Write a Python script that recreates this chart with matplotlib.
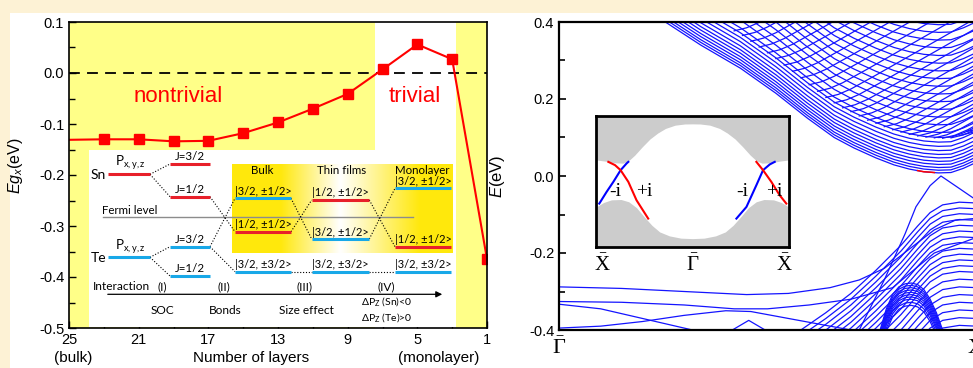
import numpy as np
import matplotlib.pyplot as plt
from matplotlib.patches import Rectangle
from matplotlib.ticker import FixedLocator, MultipleLocator

plt.rcParams['font.family'] = ['Liberation Sans', 'DejaVu Sans']
plt.rcParams['mathtext.fontset'] = 'custom'
plt.rcParams['mathtext.rm'] = 'Liberation Serif'
plt.rcParams['mathtext.it'] = 'Liberation Sans:italic'
plt.rcParams['mathtext.sf'] = 'Lato'

# ---- left panel: gap vs number of layers ----
layers = [25, 23, 21, 19, 17, 15, 13, 11, 9, 7, 5, 3, 1]
gap = [-0.131, -0.130, -0.130, -0.134, -0.133, -0.118, -0.097, -0.070, -0.041, 0.007, 0.056, 0.027, -0.365]
xtick_vals = [25, 21, 17, 13, 9, 5, 1]
xtick_minor = [23, 19, 15, 11, 7, 3]

# ---- right panel: slab bands ----
cb_x = [0.255, 0.34, 0.435, 0.52, 0.596, 0.66, 0.707, 0.76, 0.803, 0.84, 0.875, 0.91, 0.94, 0.97, 1.0]
cb_e = [0.40, 0.34, 0.28, 0.215, 0.15, 0.10, 0.073, 0.047, 0.029, 0.018, 0.011, 0.008, 0.009, 0.02, 0.035]
cb_shift = [0, 0.007, 0.014, 0.022, 0.030, 0.039, 0.048, 0.058, 0.069, 0.080, 0.092, 0.105,
            0.125, 0.145, 0.165, 0.185, 0.205, 0.225, 0.245, 0.265, 0.285, 0.305, 0.325,
            0.345, 0.365, 0.385, 0.405, 0.425]
rise_dx = [0, 0.03, 0.06, 0.09, 0.12, 0.18, 0.24, 0.30, 0.36, 0.42]
rise_de = [0, 0.008, 0.022, 0.040, 0.058, 0.095, 0.132, 0.169, 0.206, 0.243]
rise_x0 = [0.42, 0.44, 0.46, 0.48, 0.50, 0.52, 0.54, 0.56, 0.58, 0.60, 0.62, 0.64, 0.66, 0.68,
           0.70, 0.72, 0.74, 0.76, 0.78, 0.80, 0.82, 0.84, 0.86, 0.88, 0.90, 0.92, 0.94, 0.96, 0.98]
rise_e0 = [0.377, 0.365, 0.35, 0.335, 0.32, 0.305, 0.288, 0.272, 0.255, 0.237, 0.22, 0.204, 0.19,
           0.177, 0.167, 0.156, 0.145, 0.137, 0.128, 0.12, 0.114, 0.108, 0.104, 0.101, 0.099,
           0.098, 0.099, 0.105, 0.116]

vb_x = [0.58, 0.64, 0.70, 0.76, 0.82, 0.86, 0.89, 0.92, 0.96, 1.0]
vb_e = [-0.40, -0.355, -0.305, -0.245, -0.18, -0.13, -0.095, -0.075, -0.068, -0.07]
vb_shift = [0, 0.015, 0.03, 0.045, 0.06, 0.075, 0.09, 0.105, 0.12, 0.135, 0.15, 0.165,
            0.18, 0.20, 0.22, 0.24, 0.26, 0.28, 0.30, 0.32]
arch_x = [0.77, 0.785, 0.80, 0.815, 0.83, 0.845, 0.86, 0.875, 0.89, 0.905, 0.92]
arch_e = [-0.40, -0.345, -0.308, -0.288, -0.28, -0.278, -0.282, -0.295, -0.32, -0.355, -0.40]
arch_shift = [0, 0.006, 0.012, 0.018, 0.024, 0.030, 0.036, 0.042, 0.050, 0.058]

gb1_x = [0, 0.15, 0.30, 0.45, 0.55, 0.65, 0.72, 0.78, 0.84, 0.90, 0.95, 1.0]
gb1_e = [-0.288, -0.292, -0.300, -0.308, -0.305, -0.29, -0.27, -0.24, -0.19, -0.14, -0.115, -0.11]
gb2_x = [0, 0.15, 0.30, 0.42, 0.50, 0.60, 0.70, 0.80, 0.90, 1.0]
gb2_e = [-0.326, -0.328, -0.335, -0.345, -0.345, -0.335, -0.32, -0.29, -0.20, -0.16]
gb3_x = [0, 0.10, 0.20, 0.30, 0.34]
gb3_e = [-0.333, -0.345, -0.37, -0.395, -0.405]
gb4_x = [0, 0.10, 0.20, 0.30, 0.40, 0.46, 0.55, 0.65, 0.75]
gb4_e = [-0.395, -0.39, -0.378, -0.362, -0.35, -0.352, -0.37, -0.39, -0.41]
gb5_x = [0.40, 0.455, 0.51]
gb5_e = [-0.41, -0.375, -0.41]
ss_x = [0.72, 0.78, 0.83, 0.856, 0.89, 0.916, 0.95, 1.0]
ss_e = [-0.40, -0.27, -0.15, -0.08, -0.025, 0.0, -0.025, -0.062]

# ---- inset: surface states over projected bulk bands ----
top_x = [-1.0, -0.9, -0.8, -0.72, -0.66, -0.6, -0.52, -0.44, -0.36, -0.28, -0.18, -0.08, 0,
         0.08, 0.18, 0.28, 0.36, 0.44, 0.52, 0.6, 0.66, 0.72, 0.8, 0.9, 1.0]
top_e = [0.33, 0.31, 0.285, 0.28, 0.32, 0.40, 0.53, 0.65, 0.74, 0.81, 0.86, 0.878, 0.88,
         0.878, 0.86, 0.81, 0.74, 0.65, 0.53, 0.40, 0.32, 0.28, 0.285, 0.31, 0.33]
bot_x = [-1.0, -0.92, -0.84, -0.74, -0.66, -0.58, -0.5, -0.42, -0.34, -0.24, -0.12, 0,
         0.12, 0.24, 0.34, 0.42, 0.5, 0.58, 0.66, 0.74, 0.84, 0.92, 1.0]
bot_e = [-0.39, -0.32, -0.28, -0.275, -0.31, -0.40, -0.54, -0.67, -0.77, -0.83, -0.865, -0.872,
         -0.865, -0.83, -0.77, -0.67, -0.54, -0.40, -0.31, -0.275, -0.28, -0.32, -0.39]
lb_x = [-0.966, -0.89, -0.82, -0.745, -0.683, -0.665]
lb_e = [-0.337, -0.158, -0.005, 0.173, 0.276, 0.30]
lr_x = [-0.872, -0.803, -0.745, -0.665, -0.58, -0.459]
lr_e = [0.30, 0.25, 0.173, -0.005, -0.286, -0.566]
rb_x = [0.455, 0.559, 0.662, 0.731, 0.80, 0.852]
rb_e = [-0.566, -0.388, -0.056, 0.173, 0.26, 0.30]
rr_x = [0.662, 0.731, 0.817, 0.903, 0.972]
rr_e = [0.30, 0.173, -0.005, -0.209, -0.337]

W, H = 973, 368
cream = '#FDF2D5'
pale = '#FFFF88'
red_lv = '#E8202A'
blue_lv = '#18A8E8'
diag_font = 'Lato'


def px_axes(l, t, r, b):
    return [l / W, 1 - b / H, (r - l) / W, (b - t) / H]


fig = plt.figure(figsize=(W / 100, H / 100), dpi=100)
fig.patch.set_facecolor(cream)
fig.patches.append(Rectangle((10 / W, 0), 1, 1 - 13 / H, transform=fig.transFigure,
                             facecolor='white', edgecolor='none', zorder=-5))

# left panel
ax = fig.add_axes(px_axes(69, 22, 487, 328))
ax.axvspan(25, 7.43, color=pale, lw=0)
ax.axvspan(2.78, 1, color=pale, lw=0)
ax.axhline(0, color='k', ls=(0, (6, 4)), lw=1.3)
ax.plot(layers, gap, color='red', lw=1.5, marker='s', ms=7,
        markevery=list(range(1, len(layers))))
ax.set_xlim(25, 1)
ax.set_ylim(-0.5, 0.1)
ax.xaxis.set_major_locator(FixedLocator(xtick_vals))
ax.xaxis.set_minor_locator(FixedLocator(xtick_minor))
ax.set_xticklabels([str(v) for v in xtick_vals])
ax.yaxis.set_major_locator(MultipleLocator(0.1))
ax.yaxis.set_minor_locator(MultipleLocator(0.05))
ax.set_yticks([0.1, 0.0, -0.1, -0.2, -0.3, -0.4, -0.5])
ax.set_yticklabels(['0.1', '0.0', '-0.1', '-0.2', '-0.3', '-0.4', '-0.5'])
ax.tick_params(which='both', direction='in', labelsize=10.5, width=1)
ax.tick_params(which='major', length=5)
ax.tick_params(which='minor', length=4)
for s in ax.spines.values():
    s.set_linewidth(1.2)
ax.set_ylabel(r'$Eg_x$(eV)', fontsize=11.5)
ax.yaxis.set_label_coords(-0.105, 0.53)
ax.text(18.74, -0.047, 'nontrivial', color='red', fontsize=16, ha='center', va='center')
ax.text(5.14, -0.047, 'trivial', color='red', fontsize=16, ha='center', va='center')
ax.text(24.77, -0.559, '(bulk)', fontsize=11, ha='center', va='center', clip_on=False)
ax.text(3.76, -0.559, '(monolayer)', fontsize=11, ha='center', va='center', clip_on=False)
ax.text(14.55, -0.559, 'Number of layers', fontsize=11, ha='center', va='center', clip_on=False)

# energy level diagram inside the left panel
dg = fig.add_axes(px_axes(89, 150, 456, 327))
dg.set_xticks([])
dg.set_yticks([])
for s in dg.spines.values():
    s.set_visible(False)
dg.set_facecolor('white')

xs = np.linspace(0, 1, 300)
w = np.interp(xs, [0, 0.22, 0.49, 0.85, 1], [1, 1, 0, 1, 1])
yel = np.array([1.0, 0.91, 0.05])
grad = (1 - w)[:, None] * np.ones(3) + w[:, None] * yel
dg.imshow(grad[None, :, :], extent=(142.7, 362.7, 102.7, 14), aspect='auto', zorder=0)
dg.set_xlim(0, 367)
dg.set_ylim(177, 0)


def level(x0, x1, y, c):
    dg.plot([x0, x1], [y, y], color=c, lw=2.2, solid_capstyle='butt', zorder=3)


def dots(p, q):
    dg.plot([p[0], q[0]], [p[1], q[1]], color='k', ls=(0, (1, 1.6)), lw=0.8, zorder=2)


def lab(x, y, s, size=8.0, ha='left', va='bottom'):
    dg.text(x, y, s, fontsize=size, ha=ha, va=va, family=[diag_font, 'DejaVu Sans'], zorder=4)


dg.plot([14.3, 324], [67.3, 67.3], color='#8c8c8c', lw=1, zorder=1)
lab(41, 61, 'Fermi level', size=8.3, ha='center', va='center')

level(19.3, 61, 24.3, red_lv)
lab(9.3, 25, 'Sn', size=10, ha='center', va='center')
lab(41, 22.5, r'P$_{\mathsf{x,y,z}}$', size=9.5, ha='center')
level(81, 121, 14, red_lv)
lab(101, 12.5, 'J=3/2', ha='center', size=8.3)
level(81, 121, 46.7, red_lv)
lab(101, 45, 'J=1/2', ha='center', size=8.3)
dots((61, 24.3), (81, 14))
dots((61, 24.3), (81, 46.7))

level(19.3, 61, 107.3, blue_lv)
lab(9.3, 108, 'Te', size=10, ha='center', va='center')
lab(41, 105.5, r'P$_{\mathsf{x,y,z}}$', size=9.5, ha='center')
level(81, 121, 96.7, blue_lv)
lab(101, 95, 'J=3/2', ha='center', size=8.3)
level(81, 121, 126, blue_lv)
lab(101, 124.3, 'J=1/2', ha='center', size=8.3)
dots((61, 107.3), (81, 96.7))
dots((61, 107.3), (81, 126))

lab(172.7, 21, 'Bulk', size=8.3, ha='center', va='center')
lab(252.7, 21, 'Thin films', size=8.3, ha='center', va='center')
lab(333.7, 21, 'Monolayer', size=8.3, ha='center', va='center')

level(146, 202, 48.3, blue_lv)
lab(146, 46.8, '|3/2, ±1/2>')
level(146, 202, 81.7, red_lv)
lab(146, 80.2, '|1/2, ±1/2>')
level(222.7, 280.3, 50, red_lv)
lab(222.7, 48.5, '|1/2, ±1/2>')
level(222.7, 280.3, 89, blue_lv)
lab(222.7, 87.5, '|3/2, ±1/2>')
level(306, 361.7, 38.3, blue_lv)
lab(306, 36.8, '|3/2, ±1/2>')
level(306, 361.7, 96.7, red_lv)
lab(306, 95.2, '|1/2, ±1/2>')
for x0, x1 in [(146, 202), (222.7, 280.3), (306, 361.7)]:
    level(x0, x1, 121.7, blue_lv)
    lab(x0, 120.2, '|3/2, ±3/2>')

dots((121, 46.7), (146, 81.7))
dots((121, 96.7), (146, 48.3))
dots((121, 96.7), (146, 121.7))
dots((202, 48.3), (222.7, 89))
dots((202, 81.7), (222.7, 50))
dots((280.3, 50), (306, 96.7))
dots((280.3, 89), (306, 38.3))
dots((202, 121.7), (222.7, 121.7))
dots((280.3, 121.7), (306, 121.7))

for x, s in [(32.7, 'Interaction'), (73.7, '(I)'), (135, '(II)'), (215, '(III)'), (297, '(IV)')]:
    lab(x, 136.7, s, size=8.6, ha='center', va='center')
dg.annotate('', xy=(356, 144.3), xytext=(16, 144.3),
            arrowprops=dict(arrowstyle='-|>', color='k', lw=0.9, mutation_scale=9))
for x, s in [(73.7, 'SOC'), (136.7, 'Bonds'), (217.7, 'Size effect')]:
    lab(x, 160.7, s, size=8.6, ha='center', va='center')
lab(298, 152.3, r'ΔP$_{\mathsf{Z}}$ (Sn)<0', size=7.5, ha='center', va='center')
lab(298, 168.0, r'ΔP$_{\mathsf{Z}}$ (Te)>0', size=7.5, ha='center', va='center')

# right panel
bx = fig.add_axes(px_axes(559, 22, 976, 330))
band_kw = dict(color='#1414FF', lw=0.9)
for s in cb_shift:
    bx.plot(cb_x, np.array(cb_e) + s, **band_kw)
for x0, e0 in zip(rise_x0, rise_e0):
    bx.plot(np.array(rise_dx) + x0, np.array(rise_de) + e0, **band_kw)
for s in vb_shift:
    bx.plot(vb_x, np.array(vb_e) - s, **band_kw)
for s in arch_shift:
    bx.plot(arch_x, np.array(arch_e) - s, **band_kw)
for bxs, bes in [(gb1_x, gb1_e), (gb2_x, gb2_e), (gb3_x, gb3_e), (gb4_x, gb4_e),
                 (gb5_x, gb5_e), (ss_x, ss_e)]:
    bx.plot(bxs, bes, **band_kw)
bx.plot([0.86, 0.875, 0.89, 0.90], [0.014, 0.011, 0.010, 0.009], color='red', lw=1.1)
bx.set_xlim(0, 1)
bx.set_ylim(-0.4, 0.4)
bx.yaxis.set_major_locator(MultipleLocator(0.2))
bx.yaxis.set_minor_locator(MultipleLocator(0.1))
bx.set_yticks([0.4, 0.2, 0.0, -0.2, -0.4])
bx.set_yticklabels(['0.4', '0.2', '0.0', '-0.2', '-0.4'])
bx.set_xticks([0, 1])
bx.set_xticklabels([r'$\bar{\Gamma}$', r'$\bar{\mathrm{X}}$'], fontsize=16)
bx.tick_params(axis='x', length=0, pad=5)
bx.tick_params(axis='y', which='both', direction='in', labelsize=10.5, width=1.2)
bx.tick_params(axis='y', which='major', length=5)
bx.tick_params(axis='y', which='minor', length=4)
for s in bx.spines.values():
    s.set_linewidth(1.6)
bx.set_ylabel(r'$E$(eV)', fontsize=12)
bx.yaxis.set_label_coords(-0.125, 0.5)

# inset in the right panel
ins = fig.add_axes(px_axes(596, 116, 789, 247))
ins.fill_between(top_x, top_e, 1, color='#CCCCCC', lw=0)
ins.fill_between(bot_x, -1, bot_e, color='#CCCCCC', lw=0)
ins.plot(lb_x, lb_e, color='blue', lw=1.5)
ins.plot(lr_x, lr_e, color='red', lw=1.5)
ins.plot(rb_x, rb_e, color='blue', lw=1.5)
ins.plot(rr_x, rr_e, color='red', lw=1.5)
ins.set_xlim(-1, 1)
ins.set_ylim(-1, 1)
ins.set_xticks([])
ins.set_yticks([])
for s in ins.spines.values():
    s.set_linewidth(2)
for x, s in [(-0.80, '-i'), (-0.50, '+i'), (0.52, '-i'), (0.85, '+i')]:
    ins.text(x, -0.16, s, fontsize=14, ha='center', va='center', family='Liberation Serif')
for x, s in [(-0.93, r'$\bar{\mathrm{X}}$'), (0.0, r'$\bar{\Gamma}$'), (0.95, r'$\bar{\mathrm{X}}$')]:
    ins.text(x, -1.26, s, fontsize=15, ha='center', va='center', clip_on=False)

fig.savefig('out.png', dpi=100, facecolor=fig.get_facecolor())
